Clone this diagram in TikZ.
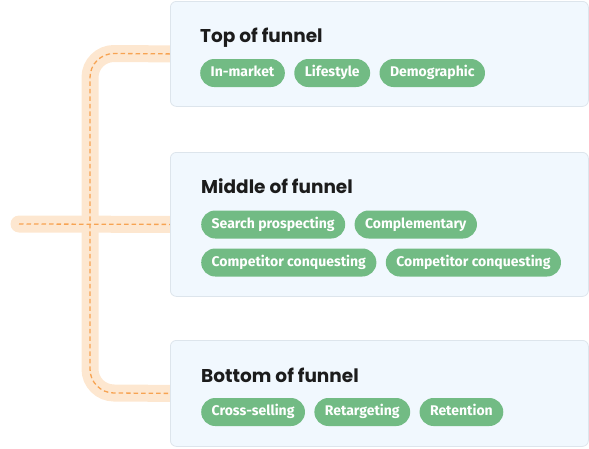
\documentclass[tikz,border=0pt]{standalone}
\usepackage{fontspec}
\setmainfont{Fira Sans}
\newfontfamily\titlefont{Poppins}
\usetikzlibrary{positioning,backgrounds}
\definecolor{cardfill}{HTML}{F1F8FE}
\definecolor{cardline}{HTML}{DDE5EC}
\definecolor{pillgreen}{HTML}{72BB84}
\definecolor{bandfill}{HTML}{FDE7D0}
\definecolor{banddash}{HTML}{F7A352}
\definecolor{titleink}{HTML}{1C1C1C}

\begin{document}
\begin{tikzpicture}[x=1pt,y=-1pt,
  card/.style={draw=cardline,fill=cardfill,rounded corners=6pt,line width=0.8pt,anchor=north west,minimum width=418pt,inner sep=0pt},
  title/.style={anchor=base west,inner sep=0pt,font=\titlefont\fontsize{18.5}{19}\selectfont\bfseries,text=titleink},
  pill/.style={fill=pillgreen,text=white,rounded corners=14pt,minimum height=28pt,inner xsep=10.5pt,inner ysep=0pt,text height=10pt,text depth=2.5pt,font=\fontsize{14}{15}\selectfont\bfseries},
  band/.style={line width=17pt,draw=bandfill},
  trail/.style={draw=banddash,line width=1.3pt,dash pattern=on 4.5pt off 3pt},
  node distance=9pt]
\useasboundingbox (0,0) rectangle (589,448);
\node[card,minimum height=105pt] (topc) at (170,1) {};
\node[card,minimum height=144pt] (midc) at (170,152) {};
\node[card,minimum height=106pt] (botc) at (170,340) {};
\coordinate (hub) at (19,224);
\begin{scope}[on background layer]
\draw[band] (topc.west) -- (114,53.5) arc[start angle=90,end angle=180,radius=24pt] -- (90,369) arc[start angle=180,end angle=270,radius=24pt] -- (botc.west);
\draw[band,line cap=round] (hub) -- (midc.west);
\draw[trail] (topc.west) -- (114,53.5) arc[start angle=90,end angle=180,radius=24pt] -- (90,369) arc[start angle=180,end angle=270,radius=24pt] -- (botc.west);
\draw[trail] (hub) -- (midc.west);
\end{scope}
% top of funnel
\node[title] (toptitle) at (200,42) {Top of funnel};
\node[pill,anchor=west] (inmarket) at (200,73) {In-market};
\node[pill,right=of inmarket] (lifestyle) {Lifestyle};
\node[pill,right=of lifestyle] (demographic) {Demographic};
% middle of funnel
\node[title] (midtitle) at (201,193) {Middle of funnel};
\node[pill,anchor=west] (search) at (201,224.5) {Search prospecting};
\node[pill,right=of search] (complementary) {Complementary};
\node[pill,anchor=west] (conquestA) at (201,262.5) {Competitor conquesting};
\node[pill,right=of conquestA] (conquestB) {Competitor conquesting};
% bottom of funnel
\node[title] (bottitle) at (201,382) {Bottom of funnel};
\node[pill,anchor=west] (crosssell) at (201,412) {Cross-selling};
\node[pill,right=of crosssell] (retargeting) {Retargeting};
\node[pill,right=of retargeting] (retention) {Retention};
\end{tikzpicture}
\end{document}
